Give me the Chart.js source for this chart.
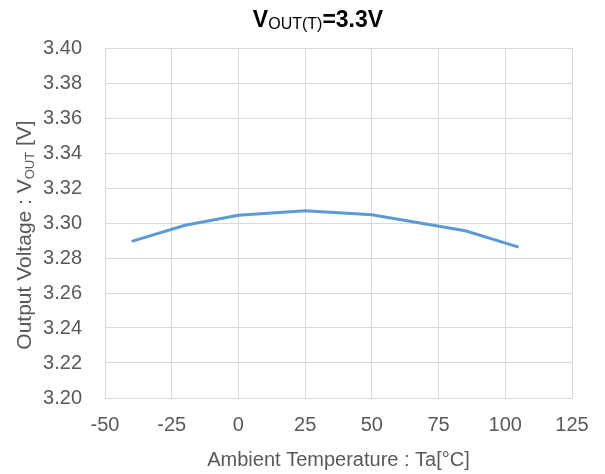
<!DOCTYPE html>
<html>
<head>
<meta charset="utf-8">
<script src="https://cdn.jsdelivr.net/npm/chart.js@4/dist/chart.umd.min.js"></script>
<style>
  html, body { margin: 0; padding: 0; background: #fff; }
  #wrap { width: 605px; height: 474px; }
</style>
</head>
<body>
<div id="wrap"><canvas id="c" width="605" height="474"></canvas></div>
<script>
// values
const temps = [-40, -20, 0, 25, 50, 85, 105];
const vout = [3.2895, 3.2987, 3.3044, 3.307, 3.3047, 3.2956, 3.2862];
const xTicks = [-50, -25, 0, 25, 50, 75, 100, 125];
const yTicks = [3.20, 3.22, 3.24, 3.26, 3.28, 3.30, 3.32, 3.34, 3.36, 3.38, 3.40];

const FONT = "'Liberation Sans', Arial, sans-serif";
const GREY = '#595959';

// title and y title have subscripts, so draw them by hand
const textPlugin = {
  id: 'subText',
  afterDraw(chart) {
    const ctx = chart.ctx;
    const area = chart.chartArea;
    ctx.save();
    ctx.textBaseline = 'alphabetic';
    ctx.fillStyle = '#000';
    // main title
    const parts = [
      { t: 'V', f: 'bold 23px ' + FONT, dy: 0 },
      { t: 'OUT(T)', f: '16px ' + FONT, dy: 2 },
      { t: '=3.3V', f: 'bold 23px ' + FONT, dy: 0 }
    ];
    let w = 0;
    parts.forEach(p => { ctx.font = p.f; w += ctx.measureText(p.t).width; });
    let x = 318 - w / 2;
    parts.forEach(p => {
      ctx.font = p.f;
      ctx.fillText(p.t, x, 27 + p.dy);
      x += ctx.measureText(p.t).width;
    });

    // y axis title, rotated
    ctx.fillStyle = GREY;
    const yp = [
      { t: 'Output Voltage : V', f: '21px ' + FONT, dy: 0 },
      { t: 'OUT', f: '13px ' + FONT, dy: 3 },
      { t: ' [V]', f: '21px ' + FONT, dy: 0 }
    ];
    w = 0;
    yp.forEach(p => { ctx.font = p.f; w += ctx.measureText(p.t).width; });
    ctx.translate(31, (area.top + area.bottom) / 2 + 12);
    ctx.rotate(-Math.PI / 2);
    x = -w / 2;
    yp.forEach(p => {
      ctx.font = p.f;
      ctx.fillText(p.t, x, p.dy);
      x += ctx.measureText(p.t).width;
    });
    ctx.restore();
  }
};

new Chart(document.getElementById('c'), {
  type: 'line',
  data: {
    datasets: [{
      data: temps.map((t, i) => ({ x: t, y: vout[i] })),
      borderColor: '#5b9bd5',
      borderWidth: 3,
      pointRadius: 0,
      tension: 0,
      fill: false
    }]
  },
  options: {
    responsive: false,
    animation: false,
    layout: { padding: { top: 48, right: 33, left: 0, bottom: 0 } },
    plugins: { legend: { display: false }, tooltip: { enabled: false } },
    scales: {
      x: {
        type: 'linear',
        min: -50, max: 125,
        afterBuildTicks: s => { s.ticks = xTicks.map(v => ({ value: v })); },
        afterFit: s => { s.height = 76; },
        grid: { color: '#d9d9d9', drawTicks: false },
        border: { color: '#d9d9d9' },
        ticks: { color: GREY, font: { family: FONT, size: 20 }, padding: 15, maxRotation: 0 },
        title: {
          display: true,
          text: 'Ambient Temperature : Ta[°C]',
          color: GREY,
          font: { family: FONT, size: 20 },
          padding: { top: 0, bottom: 2 }
        }
      },
      y: {
        min: 3.20, max: 3.40,
        afterBuildTicks: s => { s.ticks = yTicks.map(v => ({ value: v })); },
        afterFit: s => { s.width = 105; },
        grid: { color: '#d9d9d9', drawTicks: false },
        border: { color: '#d9d9d9' },
        ticks: {
          color: GREY,
          font: { family: FONT, size: 20 },
          padding: 23,
          callback: v => v.toFixed(2)
        }
      }
    }
  },
  plugins: [textPlugin]
});
</script>
</body>
</html>
